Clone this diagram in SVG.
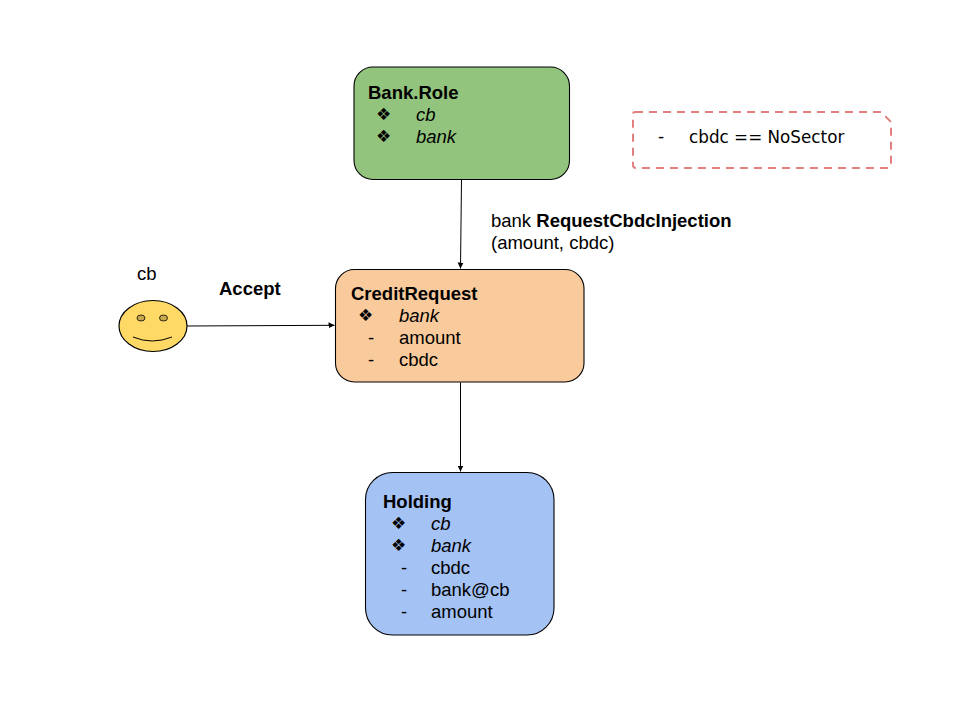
<svg xmlns="http://www.w3.org/2000/svg" width="960" height="720" viewBox="0 0 960 720">
<style>
text{font-family:"Liberation Sans",Arial,sans-serif;font-size:18.500px;fill:#000}
.b{font-weight:bold}
.i{font-style:italic}
.g{font-family:"DejaVu Sans",sans-serif;font-size:17px}
.box{stroke:#000;stroke-width:1.100}
.c{fill:none;stroke:#000;stroke-width:1}
</style>
<defs>
<marker id="a" markerWidth="7" markerHeight="7" refX="6" refY="3" orient="auto" markerUnits="userSpaceOnUse"><path d="M0 0L6 3L0 6Z" fill="#000"/></marker>
</defs>
<rect width="960" height="720" fill="#fff"/>
<g id="connectors">
<path class="c" d="M461.500 179.500L460.500 268.500" marker-end="url(#a)"/>
<path class="c" d="M187 326L334.500 325.300" marker-end="url(#a)"/>
<path class="c" d="M460.500 382.500V471.500" marker-end="url(#a)"/>
</g>
<g id="bank-role">
<rect class="box" x="354" y="67" width="215.500" height="112.500" rx="19" fill="#93c47d"/>
<text class="b" x="368" y="99">Bank.Role</text>
<text class="g" x="376" y="120">❖</text><text class="i" x="416" y="121">cb</text>
<text class="g" x="376" y="142">❖</text><text class="i" x="416" y="143">bank</text>
</g>
<g id="note">
<path d="M635 112H881L891 122V165Q891 168 888 168H636Q633 168 633 165V114Q633 112 635 112Z" fill="none" stroke="#e28080" stroke-width="2" stroke-dasharray="8 6"/>
<text x="658" y="143" font-size="17">-</text>
<text x="689" y="143" style="font-family:'DejaVu Sans',sans-serif;font-size:16.800px">cbdc == NoSector</text>
</g>
<g id="edge-label-request">
<text x="491" y="227">bank <tspan class="b">RequestCbdcInjection</tspan></text>
<text x="491" y="249">(amount, cbdc)</text>
</g>
<g id="actor-cb">
<text x="137" y="280">cb</text>
<ellipse cx="153" cy="326" rx="34" ry="25.500" fill="#ffd966" stroke="#000" stroke-width="1.200"/>
<ellipse cx="141" cy="318" rx="4" ry="3" fill="#c9a94f" stroke="#000" stroke-width="0.800"/>
<ellipse cx="163.500" cy="318" rx="4" ry="3" fill="#c9a94f" stroke="#000" stroke-width="0.800"/>
<path d="M133 337Q152 345 172 337" fill="none" stroke="#000" stroke-width="1"/>
</g>
<g id="edge-label-accept"><text class="b" x="219" y="294.500">Accept</text></g>
<g id="credit-request">
<rect class="box" x="335.500" y="269.500" width="248.500" height="112.500" rx="19" fill="#f9cb9c"/>
<text class="b" x="351" y="300">CreditRequest</text>
<text class="g" x="358" y="321">❖</text><text class="i" x="399" y="322">bank</text>
<text x="368" y="344">-</text><text x="399" y="344">amount</text>
<text x="368" y="366">-</text><text x="399" y="366">cbdc</text>
</g>
<g id="holding">
<rect class="box" x="365.500" y="472.500" width="188.500" height="162.500" rx="27" fill="#a4c2f4"/>
<text class="b" x="383" y="508">Holding</text>
<text class="g" x="391" y="529">❖</text><text class="i" x="431" y="530">cb</text>
<text class="g" x="391" y="551">❖</text><text class="i" x="431" y="552">bank</text>
<text x="401" y="574">-</text><text x="431" y="574">cbdc</text>
<text x="401" y="596">-</text><text x="431" y="596">bank@cb</text>
<text x="401" y="618">-</text><text x="431" y="618">amount</text>
</g>
</svg>
